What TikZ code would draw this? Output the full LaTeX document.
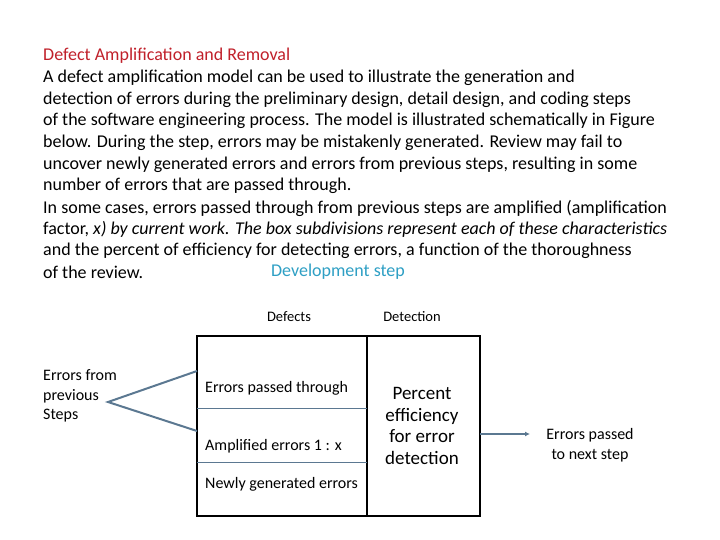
\documentclass[tikz,border=0pt]{standalone}
\usepackage{fontspec}
\usetikzlibrary{arrows.meta}
\setmainfont{Carlito}
\definecolor{titlered}{HTML}{C0202A}
\definecolor{devblue}{HTML}{2E9FC4}
\definecolor{linegray}{HTML}{5B7891}
\begin{document}
\begin{tikzpicture}[x=1pt,y=-1pt,
  body/.style={anchor=west,inner sep=0pt,font=\fontsize{18}{20}\selectfont},
  lbl/.style={inner sep=0pt,font=\fontsize{16}{19.5}\selectfont,align=left},
  hdr/.style={inner sep=0pt,font=\fontsize{14.5}{16}\selectfont},
  conn/.style={draw=linegray,line width=2pt}]
\useasboundingbox (0,0) rectangle (720,540);
\node[body,text=titlered] (t0) at (43,56) {Defect Amplification and Removal};
\node[body] (t1) at (43,78) {A defect amplification model can be used to illustrate the generation and};
\node[body] (t2) at (43,100) {detection of errors during the preliminary design, detail design, and coding steps};
\node[body] (t3) at (43,121) {of the software engineering process. The model is illustrated schematically in Figure};
\node[body] (t4) at (43,143) {below. During the step, errors may be mistakenly generated. Review may fail to};
\node[body] (t5) at (43,165) {uncover newly generated errors and errors from previous steps, resulting in some};
\node[body] (t6) at (43,186) {number of errors that are passed through.};
\node[body] (t7) at (43,208) {In some cases, errors passed through from previous steps are amplified (amplification};
\node[body] (t8) at (43,229) {factor, \textit{x) by current work. The box subdivisions represent each of these characteristics}};
\node[body] (t9) at (43,251) {and the percent of efficiency for detecting errors, a function of the thoroughness};
\node[body] (t10) at (43,272) {of the review.};
\node[body,text=devblue,anchor=center] (dev) at (338,272) {Development step};

\node[hdr] (def) at (289,317) {Defects};
\node[hdr] (det) at (412,317) {Detection};

\draw[line width=1.3pt] (197,336) rectangle (480,516);
\draw[line width=1.3pt] (367,336) -- (367,516);
\draw[draw=linegray,line width=0.6pt] (197,408) -- (367,408);
\draw[draw=linegray,line width=0.6pt] (197,462) -- (367,462);

\node[lbl,anchor=west] (prev) at (43,396) {Errors from\\previous\\Steps};
\coordinate (apex) at (108,402);
\coordinate (up) at (197,371);
\coordinate (dn) at (197,431);
\draw[conn] (up) -- (apex) -- (dn);

\node[lbl,anchor=west] (ept) at (205,388) {Errors passed through};
\node[lbl,anchor=west] (amp) at (205,446) {Amplified errors 1 : x};
\node[lbl,anchor=west] (new) at (205,484) {Newly generated errors};
\node[inner sep=0pt,align=center,font=\fontsize{19}{21.5}\selectfont] (pct) at (422,426) {Percent\\efficiency\\for error\\detection};

\node[lbl,align=center] (next) at (590,445) {Errors passed\\to next step};
\coordinate (boxr) at (480,434);
\coordinate (arrend) at (530,434);
\draw[conn,-{Latex[length=5pt,width=5pt]}] (boxr) -- (arrend);
\end{tikzpicture}
\end{document}
